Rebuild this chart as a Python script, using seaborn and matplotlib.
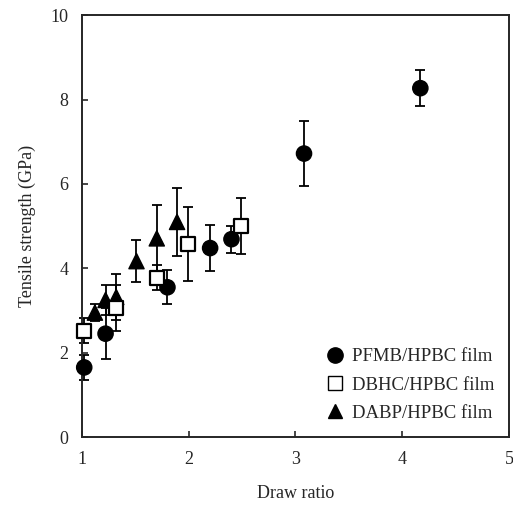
import pandas as pd
import matplotlib
matplotlib.use("Agg")
import matplotlib.pyplot as plt
import seaborn as sns

# values
pfmb_x = [1.02, 1.22, 1.80, 2.20, 2.40, 3.08, 4.17]
pfmb_y = [1.65, 2.45, 3.55, 4.48, 4.69, 6.72, 8.27]
pfmb_err = [0.3, 0.6, 0.4, 0.55, 0.32, 0.78, 0.42]

dbhc_x = [1.02, 1.32, 1.70, 1.99, 2.49]
dbhc_y = [2.52, 3.06, 3.78, 4.58, 5.0]
dbhc_err = [0.3, 0.55, 0.3, 0.87, 0.67]

dabp_x = [1.12, 1.22, 1.32, 1.51, 1.70, 1.89]
dabp_y = [2.95, 3.25, 3.32, 4.17, 4.71, 5.1]
dabp_err = [0.2, 0.35, 0.55, 0.5, 0.8, 0.8]

labels = ["PFMB/HPBC film", "DBHC/HPBC film", "DABP/HPBC film"]

frames = []
for lab, xs, ys, es in zip(labels, [pfmb_x, dbhc_x, dabp_x],
                           [pfmb_y, dbhc_y, dabp_y],
                           [pfmb_err, dbhc_err, dabp_err]):
    frames.append(pd.DataFrame({"draw": xs, "ts": ys, "err": es, "film": lab}))
df = pd.concat(frames, ignore_index=True)

sns.set_style("ticks")
plt.rcParams["font.family"] = ["Liberation Serif", "DejaVu Serif"]

fig = plt.figure(figsize=(5.13, 5.07), dpi=100)
ax = fig.add_axes([0.16, 0.138, 0.832, 0.832])

# error bars first, markers on top
for lab in labels:
    d = df[df["film"] == lab]
    eb = ax.errorbar(d["draw"], d["ts"], yerr=d["err"], fmt="none", ecolor="black",
                     elinewidth=1.3, capsize=3.5, capthick=1.3, zorder=2)
    for art in eb.get_children():
        art.set_clip_on(False)

markers = {labels[0]: "o", labels[2]: "^"}
sns.scatterplot(data=df[df["film"] != labels[1]], x="draw", y="ts", style="film",
                markers=markers, color="black", s=120, edgecolor="black",
                linewidth=1, ax=ax, zorder=3, legend=False, clip_on=False)
d = df[df["film"] == labels[1]]
ax.scatter(d["draw"], d["ts"], marker="s", s=110, facecolor="white",
           edgecolor="black", linewidth=1.6, zorder=4, clip_on=False)

# legend handles
h1 = plt.Line2D([], [], marker="o", ls="", color="black", markersize=11)
h2 = plt.Line2D([], [], marker="s", ls="", markerfacecolor="white",
                markeredgecolor="black", markersize=10)
h3 = plt.Line2D([], [], marker="^", ls="", color="black", markersize=10)
ax.legend([h1, h2, h3], labels, loc="lower right", frameon=False,
          fontsize=13.5, handletextpad=0.3, borderaxespad=0.4, labelspacing=0.6,
          handlelength=1.2)

ax.set_xlim(1, 5)
ax.set_ylim(0, 10)
ax.set_xticks([1, 2, 3, 4, 5])
ax.set_yticks([0, 2, 4, 6, 8, 10])
ax.tick_params(direction="in", length=4, width=1.2, labelsize=13, pad=10)
for s in ax.spines.values():
    s.set_linewidth(1.4)
ax.set_xlabel("Draw ratio", fontsize=13, labelpad=12)
ax.set_ylabel("Tensile strength (GPa)", fontsize=13, labelpad=10)

fig.savefig("out.png", dpi=100)
